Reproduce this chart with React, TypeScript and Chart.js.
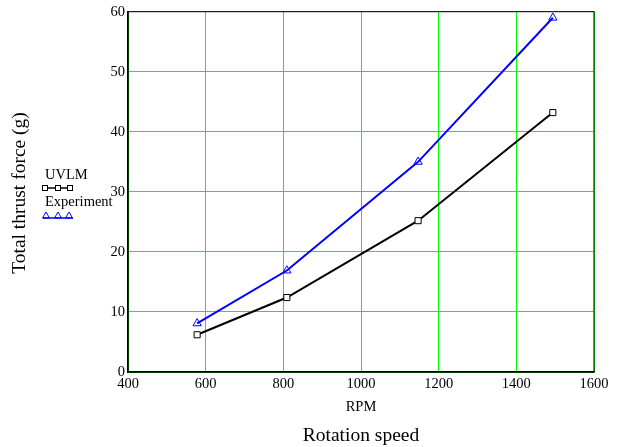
import React, { useEffect, useRef } from "react";
import { Chart, registerables } from "chart.js";
Chart.register(...registerables);

const rpm = [578, 809, 1147, 1494];
const uvlm = [6.2, 12.4, 25.2, 43.2];
const experiment = [8.1, 16.9, 35.0, 59.0];
const xTicks = [400, 600, 800, 1000, 1200, 1400, 1600];
const yTicks = [0, 10, 20, 30, 40, 50, 60];
const seriesNames = ["UVLM", "Experiment"];
const xLabel = "RPM";
const xTitle = "Rotation speed";
const yTitle = "Total thrust force (g)";

const FONT = "'Liberation Serif', 'Times New Roman', serif";

const decorPlugin = {
  id: "decor",
  afterDraw(chart: any) {
    const ctx = chart.ctx;
    const area = chart.chartArea;
    ctx.save();
    ctx.fillStyle = "#000";
    ctx.textAlign = "center";
    ctx.textBaseline = "middle";
    ctx.font = `14.5px ${FONT}`;
    ctx.fillText(xLabel, (area.left + area.right) / 2, 407);
    ctx.font = `19.5px ${FONT}`;
    ctx.fillText(xTitle, (area.left + area.right) / 2, 436);
    ctx.save();
    ctx.translate(20, 193);
    ctx.rotate(-Math.PI / 2);
    ctx.fillText(yTitle, 0, 0);
    ctx.restore();

    // legend
    ctx.textAlign = "left";
    ctx.font = `14.5px ${FONT}`;
    ctx.fillText(seriesNames[0], 45, 175);
    ctx.fillText(seriesNames[1], 45, 202);
    // UVLM sample
    ctx.strokeStyle = "#000";
    ctx.lineWidth = 1.5;
    ctx.beginPath();
    ctx.moveTo(43, 188);
    ctx.lineTo(73, 188);
    ctx.stroke();
    ctx.lineWidth = 1;
    [45, 58, 70].forEach((x) => {
      ctx.fillStyle = "#fff";
      ctx.fillRect(x - 2.5, 185.5, 5, 5);
      ctx.strokeRect(x - 2.5, 185.5, 5, 5);
    });
    // Experiment sample
    ctx.strokeStyle = "#0000ff";
    ctx.lineWidth = 1.5;
    ctx.beginPath();
    ctx.moveTo(43, 218);
    ctx.lineTo(73, 218);
    ctx.stroke();
    ctx.lineWidth = 1;
    [46, 58, 69].forEach((x) => {
      ctx.beginPath();
      ctx.moveTo(x - 3.5, 218);
      ctx.lineTo(x + 3.5, 218);
      ctx.lineTo(x, 212);
      ctx.closePath();
      ctx.stroke();
    });
    ctx.restore();
  },
};

export default function App() {
  const ref = useRef<HTMLCanvasElement>(null);
  useEffect(() => {
    document.body.style.margin = "0";
    const chart = new Chart(ref.current!, {
      type: "line",
      data: {
        datasets: [
          {
            label: seriesNames[0],
            data: rpm.map((x, i) => ({ x, y: uvlm[i] })),
            borderColor: "#000",
            borderWidth: 2,
            pointStyle: "rect",
            pointRadius: 4.3,
            pointBorderWidth: 1,
            pointBackgroundColor: "#fff",
            pointBorderColor: "#000",
          },
          {
            label: seriesNames[1],
            data: rpm.map((x, i) => ({ x, y: experiment[i] })),
            borderColor: "#0000ff",
            borderWidth: 2,
            pointStyle: "triangle",
            pointRadius: 4.8,
            pointBorderWidth: 1,
            pointBackgroundColor: "rgba(255,255,255,0)",
            pointBorderColor: "#0000ff",
          },
        ],
      },
      options: {
        animation: false,
        responsive: false,
        layout: { padding: { left: 0, right: 31, top: 9, bottom: 0 } },
        plugins: { legend: { display: false }, tooltip: { enabled: false } },
        scales: {
          x: {
            type: "linear",
            min: 400,
            max: 1600,
            afterBuildTicks: (s: any) => {
              s.ticks = xTicks.map((v) => ({ value: v }));
            },
            afterFit: (s: any) => {
              s.height = 75;
            },
            grid: { color: "#00ff00", lineWidth: 1, drawTicks: false },
            border: { color: "#000", width: 1.5 },
            ticks: {
              color: "#000",
              padding: 3,
              maxRotation: 0,
              font: { family: FONT, size: 14.5 },
              callback: (v: any) => String(v),
            },
          },
          y: {
            min: 0,
            max: 60,
            afterBuildTicks: (s: any) => {
              s.ticks = yTicks.map((v) => ({ value: v }));
            },
            afterFit: (s: any) => {
              s.width = 128;
            },
            grid: { color: "#00ff00", lineWidth: 1, drawTicks: false },
            border: { color: "#000", width: 1.5 },
            ticks: {
              color: "#000",
              padding: 3,
              font: { family: FONT, size: 14.5 },
              callback: (v: any) => String(v),
            },
          },
        },
      },
      plugins: [
        decorPlugin,
        {
          id: "frame",
          beforeDatasetsDraw(chart: any) {
            const { ctx, chartArea: a } = chart;
            ctx.save();
            ctx.strokeStyle = "#000";
            ctx.lineWidth = 1;
            ctx.strokeRect(a.left, a.top, a.right - a.left, a.bottom - a.top);
            ctx.restore();
          },
        },
      ],
    } as any);
    return () => chart.destroy();
  }, []);
  return <canvas ref={ref} width={625} height={447} style={{ display: "block" }} />;
}
